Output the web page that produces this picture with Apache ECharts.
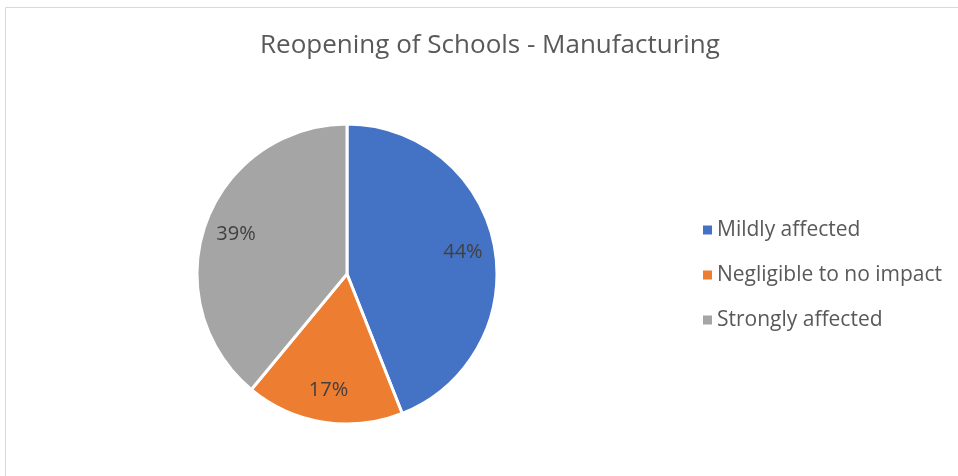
<!DOCTYPE html>
<html>
<head>
<meta charset="utf-8">
<script src="https://cdn.jsdelivr.net/npm/echarts@6/dist/echarts.min.js"></script>
<style>
  html, body { margin: 0; padding: 0; background: #fff; }
  #chart { width: 958px; height: 476px; }
</style>
</head>
<body>
<div id="chart"></div>
<script>
// Survey answers for the manufacturing sector
const categories = ['Mildly affected', 'Negligible to no impact', 'Strongly affected'];
const shares = [44, 17, 39];
const colors = ['#4472C4', '#ED7D31', '#A5A5A5'];

const data = categories.map((name, i) => ({ name, value: shares[i] }));
const font = '"Open Sans", Lato, sans-serif';

const chart = echarts.init(document.getElementById('chart'));
chart.setOption({
  animation: false,
  color: colors,
  title: {
    text: 'Reopening of Schools - Manufacturing',
    left: 490,
    textAlign: 'center',
    top: 31,
    padding: 0,
    textStyle: { fontFamily: font, fontSize: 26, fontWeight: 'normal', color: '#595959', lineHeight: 30 }
  },
  graphic: [{
    type: 'rect',
    shape: { x: 5.5, y: 7.5, width: 1000, height: 1000 },
    style: { fill: 'none', stroke: '#d9d9d9', lineWidth: 1 },
    silent: true
  }],
  legend: {
    orient: 'vertical',
    left: 703,
    top: 219,
    padding: 0,
    itemWidth: 9,
    itemHeight: 9,
    itemGap: 23,
    itemStyle: { borderWidth: 0 },
    icon: 'rect',
    textStyle: { fontFamily: font, fontSize: 21, color: '#595959', lineHeight: 22 },
    data: categories
  },
  series: [
    {
      type: 'pie',
      center: [347, 274],
      radius: [0, 150],
      startAngle: 90,
      clockwise: true,
      itemStyle: { borderColor: '#fff', borderWidth: 3 },
      label: { show: false },
      labelLine: { show: false },
      emphasis: { disabled: true },
      data: data
    },
    {
      // transparent ring that only carries the percentage labels
      type: 'pie',
      center: [347, 274],
      radius: [80, 150],
      startAngle: 90,
      clockwise: true,
      silent: true,
      itemStyle: { color: 'transparent', borderWidth: 0 },
      label: {
        show: true,
        position: 'inside',
        formatter: '{c}%',
        fontFamily: font,
        fontSize: 20,
        color: '#404040'
      },
      labelLine: { show: false },
      emphasis: { disabled: true },
      data: data
    }
  ]
});
</script>
</body>
</html>
